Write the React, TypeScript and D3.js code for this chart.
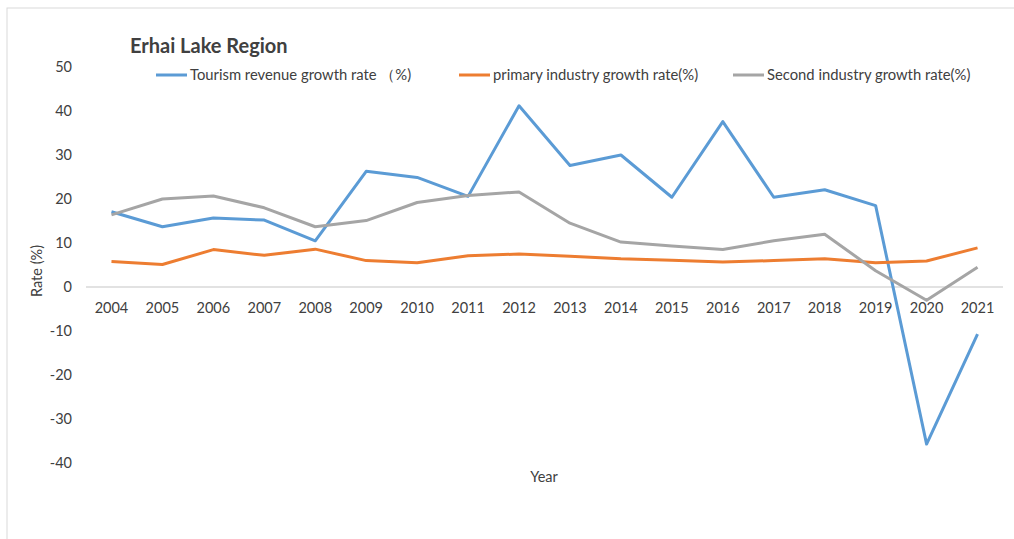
import React from "react";
import * as d3 from "d3";

const years = ["2004","2005","2006","2007","2008","2009","2010","2011","2012","2013","2014","2015","2016","2017","2018","2019","2020","2021"];
const tourism = [17.1,13.7,15.7,15.2,10.5,26.3,24.9,20.6,41.2,27.6,30.0,20.4,37.6,20.4,22.1,18.5,-35.7,-10.7];
const primary = [5.8,5.1,8.5,7.2,8.6,6.0,5.5,7.1,7.5,7.0,6.4,6.1,5.7,6.0,6.4,5.5,5.9,8.9];
const second = [16.4,20.0,20.7,18.0,13.7,15.1,19.2,20.8,21.6,14.5,10.2,9.3,8.5,10.5,12.0,3.7,-3.0,4.5];
const yTicks = [50,40,30,20,10,0,-10,-20,-30,-40];
const seriesNames = ["Tourism revenue growth rate （%)", "primary industry growth rate(%)", "Second industry growth rate(%)"];
const seriesColors = ["#5B9BD5", "#ED7D31", "#A5A5A5"];

const W = 1014, H = 539;
const FONT = "Lato, 'Open Sans', sans-serif";

export default function App() {
  const x = d3.scalePoint<string>().domain(years).range([86, 1003]).padding(0.5);
  const y = d3.scaleLinear().domain([-40, 50]).range([463, 67]);
  const line = d3.line<number>().x((_, i) => x(years[i]) as number).y(d => y(d));
  const data = [tourism, primary, second];
  const legendX = [156, 459, 733];
  return (
    <svg width={W} height={H} style={{ position: "absolute", left: 0, top: 0, background: "#fff" }} fontFamily={FONT}>
      <rect x={7} y={8} width={W + 20} height={H + 20} fill="#fff" stroke="#d9d9d9" strokeWidth={1} />
      <text x={130} y={53} fontSize={20} fontWeight="bold" fill="#404040">Erhai Lake Region</text>
      {seriesNames.map((n, i) => (
        <g key={n}>
          <line x1={legendX[i]} x2={legendX[i] + 31} y1={75} y2={75} stroke={seriesColors[i]} strokeWidth={3} />
          <text x={legendX[i] + 34} y={80} fontSize={14.8} fill="#404040">{n}</text>
        </g>
      ))}
      {yTicks.map(t => (
        <text key={t} x={72} y={y(t) + 5} fontSize={14.5} textAnchor="end" fill="#404040">{t}</text>
      ))}
      <line x1={86} x2={1003} y1={y(0)} y2={y(0)} stroke="#d9d9d9" strokeWidth={1.5} />
      {years.map(yr => (
        <text key={yr} x={x(yr)} y={313} fontSize={14.5} textAnchor="middle" fill="#404040">{yr}</text>
      ))}
      <text transform={`translate(42,271) rotate(-90)`} fontSize={14.5} textAnchor="middle" fill="#404040">Rate (%)</text>
      <text x={544} y={482} fontSize={14.5} textAnchor="middle" fill="#404040">Year</text>
      {data.map((d, i) => (
        <path key={i} d={line(d) as string} fill="none" stroke={seriesColors[i]} strokeWidth={3} strokeLinejoin="round" />
      ))}
    </svg>
  );
}
